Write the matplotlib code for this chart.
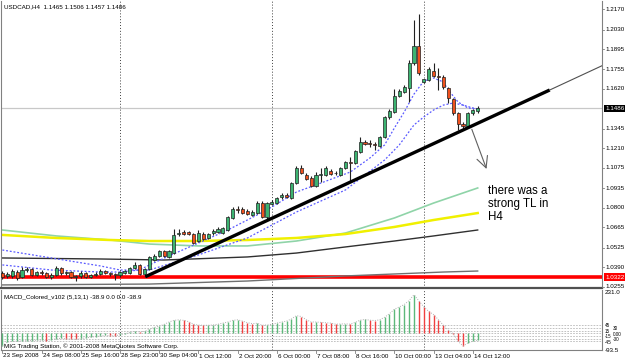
import matplotlib
matplotlib.use('Agg')
import matplotlib.pyplot as plt

plt.rcParams['font.family'] = ['Liberation Sans', 'DejaVu Sans']

# ---- USDCAD H4 candles ----
opens = [1.0350, 1.0330, 1.0330, 1.0357, 1.0323, 1.0371, 1.0378, 1.0337, 1.0357, 1.0350,
         1.0323, 1.0337, 1.0385, 1.0350, 1.0357, 1.0323, 1.0330, 1.0350, 1.0323, 1.0337,
         1.0343, 1.0364, 1.0350, 1.0343, 1.0337, 1.0350, 1.0350, 1.0385, 1.0406, 1.0343,
         1.0378, 1.0440, 1.0468, 1.0502, 1.0461, 1.0488, 1.0619, 1.0633, 1.0633, 1.0619,
         1.0571, 1.0619, 1.0592, 1.0626, 1.0633, 1.0626, 1.0647, 1.0730, 1.0792, 1.0792,
         1.0778, 1.0751, 1.0764, 1.0833, 1.0737, 1.0826, 1.0833, 1.0875, 1.0888, 1.0868,
         1.0971, 1.1075, 1.1026, 1.1006, 1.0951, 1.1026, 1.1026, 1.1054, 1.1040, 1.1026,
         1.1075, 1.1116, 1.1109, 1.1185, 1.1254, 1.1247, 1.1240, 1.1227, 1.1289, 1.1427,
         1.1461, 1.1572, 1.1599, 1.1627, 1.1799, 1.1917, 1.1668, 1.1682, 1.1744, 1.1710,
         1.1703, 1.1627, 1.1551, 1.1454, 1.1378, 1.1365, 1.1454, 1.1465]
highs = [1.0364, 1.0357, 1.0378, 1.0371, 1.0392, 1.0392, 1.0385, 1.0364, 1.0371, 1.0357,
         1.0350, 1.0399, 1.0392, 1.0364, 1.0364, 1.0337, 1.0364, 1.0357, 1.0343, 1.0357,
         1.0378, 1.0371, 1.0357, 1.0350, 1.0364, 1.0371, 1.0392, 1.0426, 1.0413, 1.0385,
         1.0468, 1.0482, 1.0509, 1.0509, 1.0509, 1.0654, 1.0654, 1.0647, 1.0640, 1.0626,
         1.0647, 1.0633, 1.0626, 1.0654, 1.0668, 1.0668, 1.0744, 1.0806, 1.0813, 1.0806,
         1.0792, 1.0785, 1.0847, 1.0847, 1.0840, 1.0854, 1.0875, 1.0902, 1.0902, 1.0978,
         1.1089, 1.1095, 1.1040, 1.1020, 1.1047, 1.1075, 1.1089, 1.1068, 1.1054, 1.1082,
         1.1123, 1.1151, 1.1199, 1.1289, 1.1268, 1.1268, 1.1254, 1.1296, 1.1434, 1.1482,
         1.1620, 1.1620, 1.1648, 1.1820, 1.2096, 1.2138, 1.1689, 1.1772, 1.1799, 1.1765,
         1.1717, 1.1634, 1.1558, 1.1461, 1.1392, 1.1461, 1.1482, 1.1506]
lows = [1.0309, 1.0316, 1.0316, 1.0302, 1.0316, 1.0357, 1.0330, 1.0330, 1.0337, 1.0316,
        1.0309, 1.0330, 1.0337, 1.0337, 1.0316, 1.0295, 1.0316, 1.0316, 1.0316, 1.0330,
        1.0337, 1.0343, 1.0330, 1.0302, 1.0323, 1.0343, 1.0343, 1.0378, 1.0337, 1.0323,
        1.0371, 1.0433, 1.0461, 1.0461, 1.0454, 1.0482, 1.0606, 1.0613, 1.0613, 1.0550,
        1.0564, 1.0578, 1.0585, 1.0613, 1.0626, 1.0619, 1.0640, 1.0723, 1.0764, 1.0757,
        1.0751, 1.0744, 1.0757, 1.0730, 1.0723, 1.0820, 1.0826, 1.0861, 1.0868, 1.0861,
        1.0964, 1.1033, 1.0992, 1.0944, 1.0944, 1.0978, 1.1019, 1.1026, 1.1026, 1.1019,
        1.1068, 1.0978, 1.1102, 1.1178, 1.1233, 1.1220, 1.1199, 1.1220, 1.1282, 1.1413,
        1.1454, 1.1565, 1.1592, 1.1530, 1.1785, 1.1717, 1.1661, 1.1675, 1.1703, 1.1613,
        1.1620, 1.1523, 1.1440, 1.1337, 1.1351, 1.1358, 1.1440, 1.1457]
closes = [1.0323, 1.0343, 1.0364, 1.0316, 1.0371, 1.0378, 1.0337, 1.0357, 1.0350, 1.0323,
          1.0337, 1.0385, 1.0350, 1.0357, 1.0323, 1.0330, 1.0350, 1.0323, 1.0337, 1.0343,
          1.0364, 1.0350, 1.0343, 1.0337, 1.0357, 1.0364, 1.0385, 1.0406, 1.0343, 1.0378,
          1.0461, 1.0468, 1.0502, 1.0468, 1.0502, 1.0613, 1.0626, 1.0619, 1.0619, 1.0557,
          1.0626, 1.0585, 1.0619, 1.0640, 1.0654, 1.0661, 1.0737, 1.0792, 1.0785, 1.0764,
          1.0757, 1.0771, 1.0833, 1.0737, 1.0833, 1.0840, 1.0868, 1.0888, 1.0875, 1.0971,
          1.1075, 1.1040, 1.0999, 1.0951, 1.1026, 1.1033, 1.1075, 1.1033, 1.1040, 1.1075,
          1.1116, 1.1109, 1.1192, 1.1254, 1.1240, 1.1240, 1.1234, 1.1289, 1.1427, 1.1468,
          1.1572, 1.1606, 1.1634, 1.1799, 1.1917, 1.1730, 1.1689, 1.1758, 1.1710, 1.1703,
          1.1634, 1.1558, 1.1454, 1.1378, 1.1365, 1.1454, 1.1475, 1.1486]

# MACD_Colored histogram (5,13,1)
macd = [-70, -48, -45, -44, -42, -40, -40, -38, -38, -40,
        -35, -30, -28, -30, -32, -33, -30, -25, -22, -18,
        -15, -12, -13, -14, -8, -3, 5, 10, 8, 10,
        22, 32, 39, 49, 62, 71, 74, 71, 64, 50,
        45, 44, 44, 46, 50, 56, 62, 71, 74, 67,
        58, 53, 55, 44, 46, 49, 56, 62, 67, 79,
        97, 92, 75, 62, 62, 60, 58, 56, 50, 51,
        52, 50, 60, 72, 76, 72, 70, 74, 88, 108,
        132, 145, 158, 180, 212, 178, 145, 120, 103, 74,
        44, 18, -2, -44, -70, -53, -44, -38.9]

# moving averages read at a few bars
fast_ma_x = [0, 10, 20, 24, 28, 30, 34, 40, 46, 52, 55, 60, 65, 71, 75, 78, 80, 82, 84, 86, 88, 90, 91, 93, 95, 97]
fast_ma_y = [1.0406, 1.0371, 1.0357, 1.0357, 1.0371, 1.0406, 1.0468, 1.0557, 1.0647, 1.0751, 1.0806, 1.0909, 1.0971,
             1.1047, 1.1144, 1.1234, 1.1351, 1.1461, 1.1585, 1.1675, 1.1696, 1.1668, 1.1613, 1.1530, 1.1489, 1.1482]
slow_ma_x = [0, 10, 20, 24, 30, 40, 50, 60, 70, 78, 81, 84, 86, 88, 90, 92, 94, 96, 97]
slow_ma_y = [1.0509, 1.0454, 1.0399, 1.0371, 1.0371, 1.0475, 1.0592, 1.0771, 1.0923, 1.1130, 1.1234, 1.1372,
             1.1427, 1.1475, 1.1509, 1.1523, 1.1509, 1.1489, 1.1482]
green_ma_x = [0, 11, 22, 30, 40, 50, 60, 70, 80, 88, 97]
green_ma_y = [1.0647, 1.0606, 1.0578, 1.0550, 1.0537, 1.0537, 1.0571, 1.0626, 1.0730, 1.0833, 1.0937]
yellow_ma_x = [0, 11, 22, 30, 40, 50, 60, 70, 80, 88, 97]
yellow_ma_y = [1.0613, 1.0592, 1.0578, 1.0571, 1.0571, 1.0578, 1.0592, 1.0619, 1.0668, 1.0716, 1.0764]
gray_ma_x = [0, 20, 33, 50, 60, 70, 80, 88, 97]
gray_ma_y = [1.0454, 1.0447, 1.0440, 1.0461, 1.0488, 1.0530, 1.0571, 1.0606, 1.0647]
long_ma_x = [0, 30, 50, 70, 90, 97]
long_ma_y = [1.0268, 1.0274, 1.0295, 1.0330, 1.0357, 1.0364]

trend_x = [29.2, 111.7, 122.4]
trend_y = [1.0325, 1.1613, 1.1781]

time_labels = ['23 Sep 2008', '24 Sep 08:00', '25 Sep 16:00', '28 Sep 23:00', '30 Sep 04:00',
               '1 Oct 12:00', '2 Oct 20:00', '6 Oct 00:00', '7 Oct 08:00', '8 Oct 16:00',
               '10 Oct 00:00', '13 Oct 04:00', '14 Oct 12:00']
time_bars = [0, 8, 16, 24, 32, 40, 48, 56, 64, 72, 80, 88, 96]
week_starts = [24, 55, 86]
price_ticks = [1.2170, 1.2030, 1.1895, 1.1755, 1.1620, 1.1345, 1.1210, 1.1075,
               1.0935, 1.0800, 1.0665, 1.0525, 1.0390, 1.0255]
macd_levels = [45, 30, 15, 0, -15, -30, -45]
bid = 1.1486
red_level = 1.0322

W, H = 625, 363
fig = plt.figure(figsize=(W / 100, H / 100), dpi=100)
fig.patch.set_facecolor('white')

X0, DX = 2.4, 4.9          # pixel of bar 0, pixels per bar
XL = ((1 - X0) / DX, (602 - X0) / DX)
YTOP, YPX = 1.2234, 0.00069  # price at pixel row 0, price per pixel

ax = fig.add_axes([1 / W, 75 / H, 601 / W, 287 / H])
ax.set_xlim(*XL)
ax.set_ylim(YTOP - 288 * YPX, YTOP - 1 * YPX)
ax2 = fig.add_axes([1 / W, 13 / H, 601 / W, 60 / H])
ax2.set_xlim(*XL)
ax2.set_ylim(-92, 238)

for a in (ax, ax2):
    a.set_xticks([])
    a.set_yticks([])
    for s in a.spines.values():
        s.set_color('#808080')
        s.set_linewidth(0.8)
    a.spines['top'].set_visible(False)
ax.spines['bottom'].set_color('#505050')
ax.spines['bottom'].set_linewidth(1.6)

# week separators
for b in week_starts:
    ax.axvline(b, color='#404040', lw=0.7, ls=(0, (1, 2)), zorder=1)
    ax2.axvline(b, color='#404040', lw=0.7, ls=(0, (1, 2)), zorder=1)

# horizontal lines
ax.axhline(bid, color='#c8c8c8', lw=0.9, zorder=1)
ax.axhline(red_level, color='#ff0000', lw=2.6, zorder=2)

# moving averages
ax.plot(long_ma_x, long_ma_y, color='#707070', lw=1.0, zorder=2)
ax.plot(gray_ma_x, gray_ma_y, color='#303030', lw=1.0, zorder=2)
ax.plot(green_ma_x, green_ma_y, color='#8fd4a8', lw=1.2, zorder=2)
ax.plot(yellow_ma_x, yellow_ma_y, color='#f0f000', lw=1.8, zorder=2)
ax.plot(slow_ma_x, slow_ma_y, color='#5a5aff', lw=0.9, ls=(0, (1.5, 1.5)), zorder=2)
ax.plot(fast_ma_x, fast_ma_y, color='#5a5aff', lw=0.9, ls=(0, (1.5, 1.5)), zorder=2)

# candles
n = len(closes)
xs = list(range(n))
ax.vlines(xs, lows, highs, color='#202020', lw=0.8, zorder=3)
for i in xs:
    o, c = opens[i], closes[i]
    col = '#3cb371' if c >= o else '#f0501e'
    lo = min(o, c)
    h = max(abs(c - o), 0.00035)
    ax.bar(i, h, bottom=lo, width=0.62, color=col, edgecolor='#202020', linewidth=0.5, zorder=4)

# trendline: thick part plus thin extension
ax.plot(trend_x[:2], trend_y[:2], color='black', lw=2.4, solid_capstyle='butt', zorder=5)
ax.plot(trend_x[1:], trend_y[1:], color='#505050', lw=0.8, zorder=5)

# arrow and note
ax.annotate('', xy=(99.0, 1.1050), xytext=(95.6, 1.1360),
            arrowprops=dict(arrowstyle='->,head_length=0.8,head_width=0.4', color='#606060', lw=0.8),
            zorder=6)
ax.text(99.2, 1.0960, 'there was a\nstrong TL in\nH4', fontsize=8.3, va='top', ha='left',
        linespacing=1.15, color='black',
        bbox=dict(facecolor='white', edgecolor='none', pad=1.5), zorder=6)

# MACD histogram
for i in xs:
    v = macd[i]
    col = '#5cb87a' if (i == 0 or v >= macd[i - 1]) else '#f04040'
    ax2.vlines(i, 0, v, color=col, lw=1.0, zorder=3)
ax2.plot(xs, macd, color='#b0b0b0', lw=0.7, ls=(0, (1, 1.5)), zorder=4)
for lv in macd_levels:
    ax2.axhline(lv, color='#b8b8b8', lw=0.6, ls=(0, (2, 1.5)), zorder=1)

# text in pixel coordinates
def ftext(px, py, s, **kw):
    fig.text(px / W, 1 - py / H, s, **kw)

small = dict(fontsize=4.5, color='black', va='center')
ftext(4, 7, 'USDCAD,H4  1.1465 1.1506 1.1457 1.1486', ha='left', **small)
ftext(4, 297, 'MACD_Colored_v102 (5,13,1) -38.9 0.0 0.0 -38.9', ha='left', **small)
ftext(4, 346, 'MIG Trading Station, \u00a9 2001-2008 MetaQuotes Software Corp.', ha='left', **small)

for p in price_ticks:
    py = (YTOP - p) / YPX
    ftext(605, py, '%.4f' % p, ha='left', **small)
    fig.add_artist(plt.Line2D([602 / W, 604 / W], [1 - py / H] * 2, color='#808080', lw=0.6))

for p, bg in ((bid, 'black'), (red_level, '#ff0000')):
    py = (YTOP - p) / YPX
    ftext(605, py, '%.4f' % p, ha='left', fontsize=4.5, color='white', va='center',
          bbox=dict(facecolor=bg, edgecolor='none', pad=0.8))

ftext(605, 293, '231.0', ha='left', **small)
ftext(605, 350, '-93.5', ha='left', **small)
for k, lv in enumerate(macd_levels):
    py = 334 - lv * 0.19
    ftext(605 + 8 * (k % 2), py, '0.00' if lv == 0 else '%d' % lv, ha='left',
          fontsize=3.3, color='black', va='center')

for b, lab in zip(time_bars, time_labels):
    px = X0 + b * DX
    ftext(px + 1, 356, lab, ha='left', **small)
    fig.add_artist(plt.Line2D([px / W] * 2, [1 - 350 / H, 1 - 353 / H], color='#808080', lw=0.6))

fig.savefig('out.png', dpi=100, facecolor='white')
